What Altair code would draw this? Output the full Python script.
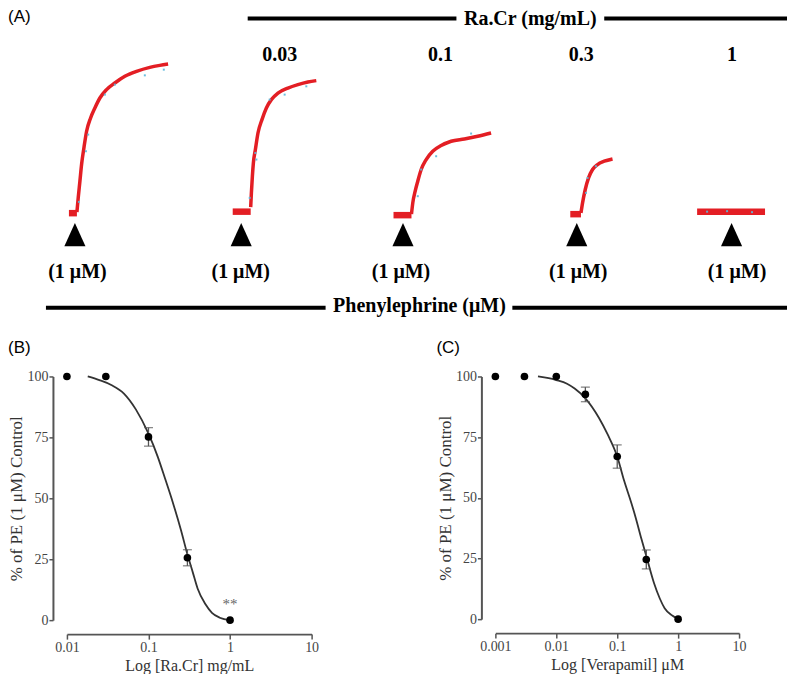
import altair as alt
import pandas as pd

# ---------------- Panel A: isometric tension recordings ----------------
# time (s) and tension (arbitrary units) read from the tracings
base_trace = [1, 1, 2, 2, 3, 3, 4, 4, 5, 5]
base_time = [61, 69, 225, 243, 386, 404, 563, 573.7, 690, 758]
base_tension = [108, 108, 109.5, 109.5, 106, 106, 107, 107, 109.5, 109.5]

rise1_time = [69, 70.3, 72, 73.7, 76, 78.7, 82.7, 87, 92, 98.7, 107, 117, 128.7, 142, 152, 160.3]
rise1_tension = [109, 123.3, 140, 157, 173.3, 190, 203.3, 213.3, 223.3, 231.7, 238.3, 245, 250, 254, 256, 257.3]
rise2_time = [243, 243.7, 244.7, 245.7, 247.7, 250.3, 254.3, 258.7, 263.7, 270.3, 280.3, 290.3, 300.3, 308.7]
rise2_tension = [114, 128.3, 145, 158.3, 171.7, 188.3, 201.7, 213.3, 221.7, 228.3, 233.3, 236.7, 239.3, 240.7]
rise3_time = [404, 405.3, 407.7, 410.3, 413.7, 418.7, 425.3, 433.7, 443.7, 457, 470.3, 483.7]
rise3_tension = [107, 118.3, 130, 140, 151.7, 161.7, 170, 175.7, 180, 182.3, 185, 188.3]
rise4_time = [573.7, 575.3, 578, 581.3, 585.3, 590.3, 597, 605.3]
rise4_tension = [108.3, 118.3, 131.7, 143.3, 151.7, 156.7, 160, 162.3]

speck_time = [71, 78, 80.3, 97, 107, 137, 156, 242, 247.7, 248.7, 262, 277, 298.7,
              410.3, 413.7, 428.7, 463.7, 580.3, 578.7, 588.7, 700, 720, 745]
speck_tension = [119.3, 170, 186.7, 226.7, 236.7, 246, 251.7, 123.3, 168.3, 161.7, 221.7, 226.7, 235,
                 125, 151.7, 165, 187.7, 143.3, 128.3, 155, 109.5, 110, 109]

addition_time = [67, 233.5, 395.5, 569.5, 724.5]

conc_labels = ["0.03", "0.1", "0.3", "1"]
pe_label = "(1 \u03bcM)"

# ---------------- Panel B: Ra.Cr ----------------
b_conc = [0.01, 0.03, 0.1, 0.3, 1]
b_mean = [100, 100, 75.2, 25.6, 0]
b_sem = [0, 0, 3.8, 3.3, 0]
b_curve_conc = [0.018, 0.025, 0.035, 0.05, 0.07, 0.1, 0.13, 0.16, 0.2, 0.25, 0.3, 0.35, 0.4, 0.5, 0.6, 0.75, 1.0]
b_curve_pct = [100, 98.5, 96.5, 93, 86.5, 76.5, 67, 58, 48, 37, 27, 19.5, 13, 6.5, 3, 1, 0]

# ---------------- Panel C: Verapamil ----------------
c_conc = [0.001, 0.003, 0.01, 0.03, 0.1, 0.3, 1]
c_mean = [100, 100, 100, 92.6, 67, 24.6, 0]
c_sem = [0, 0, 0, 3, 4.8, 3.9, 0]
c_curve_conc = [0.005, 0.0075, 0.01, 0.015, 0.02, 0.03, 0.05, 0.07, 0.1, 0.13, 0.17, 0.2, 0.25, 0.3, 0.4, 0.5, 0.6, 0.8, 1.0]
c_curve_pct = [100, 99.3, 98.5, 97, 95, 91, 83, 76, 67, 57, 48, 42, 33, 26, 15, 8.5, 4.5, 1.5, 0]

RED = "#e31e24"
SERIF = "Liberation Serif"
SANS = "Liberation Sans"

# ---------- build panel A ----------
rise_rows = []
for tr, ts, vs in [(1, rise1_time, rise1_tension), (2, rise2_time, rise2_tension),
                   (3, rise3_time, rise3_tension), (4, rise4_time, rise4_tension)]:
    for t, v in zip(ts, vs):
        rise_rows.append({"trace": tr, "t": t, "v": v})
rise_df = pd.DataFrame(rise_rows)
base_df = pd.DataFrame({"trace": base_trace, "t": base_time, "v": base_tension})
speck_df = pd.DataFrame({"t": speck_time, "v": speck_tension})
add_df = pd.DataFrame({"t": addition_time})

xA = alt.X("t:Q", scale=alt.Scale(domain=[59, 781], nice=False, zero=False), axis=None)
yA = alt.Y("v:Q", scale=alt.Scale(domain=[0, 312], nice=False, zero=False), axis=None)

one = alt.Data(values=[{}])

base_layer = alt.Chart(base_df).mark_line(color=RED, strokeWidth=6.5, strokeCap="butt").encode(
    x=xA, y=yA, detail="trace:N")
rise_layer = alt.Chart(rise_df).mark_line(color=RED, strokeWidth=3.5, interpolate="monotone").encode(
    x=xA, y=yA, detail="trace:N")
speck_layer = alt.Chart(speck_df).mark_point(shape="square", filled=True, size=4, color="#5ab8dc", opacity=0.9).encode(
    x=xA, y=yA)
tri_layer = alt.Chart(add_df).mark_point(shape="M0,-1L0.9,1L-0.9,1Z", filled=True, size=552,
                                         color="black", opacity=1).encode(x=xA, y=alt.value(225.5))


def rule(x1, x2, y, w=4):
    return alt.Chart(one).mark_rule(color="black", strokeWidth=w).encode(
        x=alt.value(x1), x2=alt.value(x2), y=alt.value(y))


def label(txt, x, y, size=20, weight="bold", font=SERIF, align="center", baseline="middle"):
    return alt.Chart(one).mark_text(text=txt, font=font, fontSize=size, fontWeight=weight,
                                    align=align, baseline=baseline, color="black").encode(
        x=alt.value(x), y=alt.value(y))


a_layers = [base_layer, rise_layer, speck_layer, tri_layer,
            rule(181, 390, 9), rule(538, 721, 9),
            rule(-21, 259, 298.7), rule(446, 721, 298.7),
            label("Ra.Cr (mg/mL)", 464, 9.5),
            label("Phenylephrine (\u03bcM)", 353, 297),
            label("(A)", -59, 0, size=17, weight="normal", font=SANS, align="left", baseline="top")]
for txt, x in zip(conc_labels, [213, 374, 515, 666]):
    a_layers.append(label(txt, x, 45.5))
for x in [10.5, 174, 334.5, 512, 671]:
    a_layers.append(label(pe_label, x, 263))

panelA = alt.layer(*a_layers).properties(width=722, height=312)


# ---------- build panels B and C ----------
def dose_panel(conc, mean, sem, cconc, cpct, dom, xvals, xtitle, tag, w, h, stars=False):
    pts = pd.DataFrame({"c": conc, "m": mean, "lo": [m - s for m, s in zip(mean, sem)],
                        "hi": [m + s for m, s in zip(mean, sem)], "s": sem})
    err = pts[pts["s"] > 0]
    cur = pd.DataFrame({"c": cconc, "p": cpct})
    xs = alt.Scale(type="log", domain=dom, nice=False)
    ys = alt.Scale(domain=[0, 100], nice=False, zero=False)
    xaxis = alt.Axis(values=xvals, format="~g", offset=14, tickSize=5, labelPadding=1, titlePadding=3,
                     domainColor="#555", domainWidth=2, tickColor="#555", tickWidth=1.5,
                     labelColor="#444", labelFontSize=14, labelFont=SERIF, title=xtitle,
                     titleFont=SERIF, titleFontSize=16, titleFontWeight="normal", titleColor="#333",
                     grid=False, labelFlush=False)
    yaxis = alt.Axis(values=[0, 25, 50, 75, 100], offset=14, tickSize=4, labelPadding=1, titlePadding=1,
                     domainColor="#555", domainWidth=2, tickColor="#555", tickWidth=1.5,
                     labelColor="#444", labelFontSize=14, labelFont=SERIF,
                     title="% of PE (1 \u03bcM) Control", titleFont=SERIF, titleFontSize=17,
                     titleFontWeight="normal", titleColor="#333", grid=False, labelFlush=False)
    curve = alt.Chart(cur).mark_line(color="#333", strokeWidth=1.8, interpolate="monotone").encode(
        x=alt.X("c:Q", scale=xs, axis=xaxis), y=alt.Y("p:Q", scale=ys, axis=yaxis))
    bars = alt.Chart(err).mark_rule(color="#555", strokeWidth=1.3).encode(
        x=alt.X("c:Q", scale=xs), y=alt.Y("lo:Q", scale=ys), y2="hi:Q")
    cap_hi = alt.Chart(err).mark_tick(orient="horizontal", size=9, thickness=1.3, color="#555").encode(
        x=alt.X("c:Q", scale=xs), y=alt.Y("hi:Q", scale=ys))
    cap_lo = alt.Chart(err).mark_tick(orient="horizontal", size=9, thickness=1.3, color="#555").encode(
        x=alt.X("c:Q", scale=xs), y=alt.Y("lo:Q", scale=ys))
    dots = alt.Chart(pts).mark_circle(size=58, color="black", opacity=1).encode(
        x=alt.X("c:Q", scale=xs), y=alt.Y("m:Q", scale=ys))
    layers = [curve, bars, cap_hi, cap_lo, dots]
    if stars:
        st = pts[pts["c"] == 1]
        layers.append(alt.Chart(st).mark_text(text="**", font=SERIF, fontSize=15, color="#666", dy=-16).encode(
            x=alt.X("c:Q", scale=xs), y=alt.Y("m:Q", scale=ys)))
    return alt.layer(*layers).properties(
        width=w, height=h,
        title=alt.Title(tag, anchor="start", frame="bounds", font=SANS, fontSize=17,
                        fontWeight="normal", color="black", offset=12))


panelB = dose_panel(b_conc, b_mean, b_sem, b_curve_conc, b_curve_pct, [0.01, 10],
                    [0.01, 0.1, 1, 10], "Log [Ra.Cr] mg/mL", "(B)", 245, 244, stars=True)
panelC = dose_panel(c_conc, c_mean, c_sem, c_curve_conc, c_curve_pct, [0.001, 10],
                    [0.001, 0.01, 0.1, 1, 10], "Log [Verapamil] \u03bcM", "(C)", 244, 243)

chart = alt.vconcat(
    panelA,
    alt.hconcat(panelB, panelC, spacing=184, bounds="flush"),
    spacing=55.5, bounds="flush",
).properties(padding=0).configure_view(stroke=None)

chart.save("out.html", embed_options={"renderer": "svg", "actions": False})
